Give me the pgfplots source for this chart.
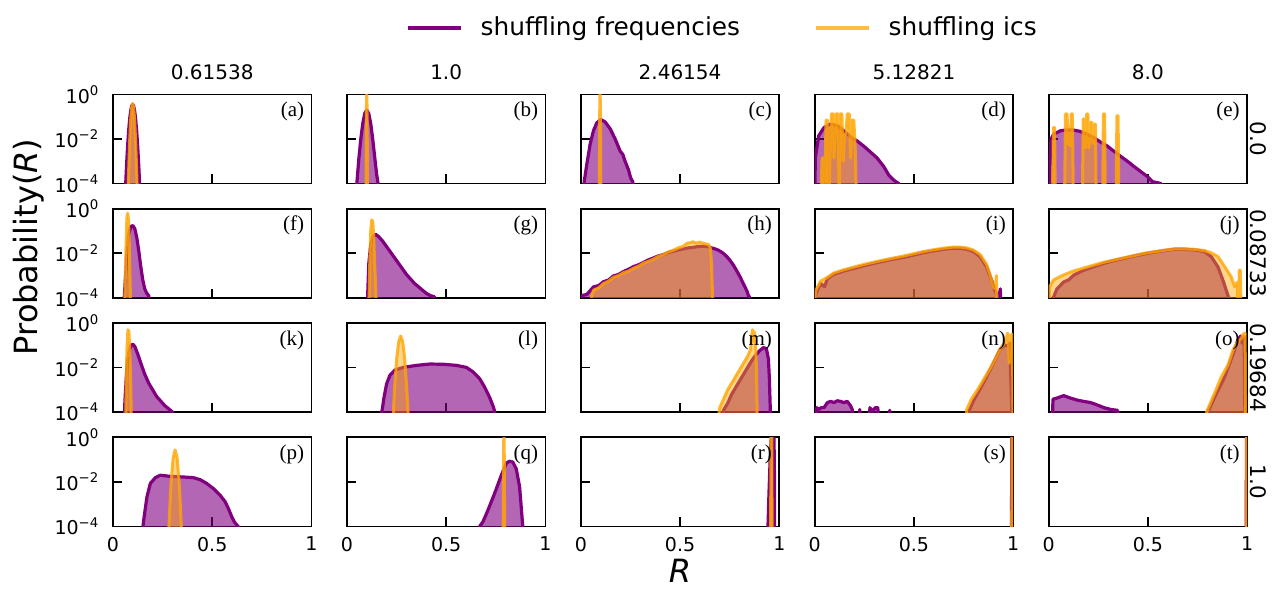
\documentclass[border=0pt]{standalone}
\usepackage{fontspec}
\setmainfont{DejaVu Sans}
\newfontfamily\panelfont{Liberation Serif}
\usepackage{pgfplots}
\pgfplotsset{compat=1.18}
\definecolor{pur}{RGB}{128,0,128}
\definecolor{org}{RGB}{255,165,0}
\pgfplotsset{
  panel/.style={
    scale only axis, width=99.25pt, height=44.5pt, anchor=south west,
    xmin=0, xmax=1, ymin=-4, ymax=0,
    xtick={0,0.5,1}, ytick={-4,-2,0},
    xticklabels={,,}, yticklabels={,,},
    tick align=inside, xtick pos=bottom, ytick pos=left,
    major tick length=4.5pt,
    axis line style={line width=0.9pt},
    every tick/.style={black, line width=0.9pt},
    tick label style={font=\fontsize{9.5}{11}\selectfont},
    xticklabel style={yshift=-1.8pt},
    yticklabel style={xshift=-3.3pt},
    clip mode=individual,
  },
  col1/.style={yticklabels={10\textsuperscript{−4},10\textsuperscript{−2},10\textsuperscript{0}}},
  bot/.style={xticklabels={0,0.5,1}},
  pf/.style={forget plot, draw=pur, line width=1.6pt, fill=pur, fill opacity=0.6, line join=round, mark=none},
  of/.style={forget plot, draw=org, draw opacity=0.8, line width=1.5pt, fill=org, fill opacity=0.45, line join=round, mark=none},
}
\newcommand{\plab}[1]{\node[anchor=north east, inner sep=0pt, font=\panelfont\fontsize{10.5}{12}\selectfont, xshift=-3.5pt, yshift=-3.5pt] at (rel axis cs:1,1) {(#1)};}
\newcommand{\ctitle}[1]{\node[anchor=base, font=\fontsize{10}{12}\selectfont, yshift=7.25pt] at (rel axis cs:0.5,1) {#1};}
\newcommand{\rlab}[1]{\node[xshift=5.75pt, rotate=-90, anchor=center, font=\fontsize{10.7}{12}\selectfont] at (rel axis cs:1,0.5) {#1};}
\begin{document}
\begin{tikzpicture}
\path[use as bounding box] (0,0) rectangle (639pt,294.5pt);
% ---------------- row 1 ----------------
\begin{axis}[panel, col1, at={(56.5pt,202.75pt)},
  legend style={at={(3.075,1.747)}, anchor=center, draw=none, fill=none, legend columns=2,
    font=\fontsize{12.4}{14}\selectfont,
    /tikz/every odd column/.append style={column sep=7pt},
    /tikz/every even column/.append style={column sep=35pt}},
  legend image code/.code={\draw[#1] (0pt,0pt) -- (26.5pt,0pt);}]
\addlegendimage{draw=pur, line width=1.8pt}
\addlegendentry{shuffling frequencies}
\addlegendimage{draw=org, draw opacity=0.75, line width=1.8pt}
\addlegendentry{shuffling ics}
\addplot[pf] coordinates {(0.059,-5.1)(0.064,-4)(0.069,-3.06)(0.074,-2.26)(0.079,-1.61)(0.084,-1.1)(0.089,-0.74)(0.094,-0.52)(0.099,-0.45)(0.104,-0.52)(0.109,-0.74)(0.114,-1.1)(0.119,-1.61)(0.124,-2.26)(0.129,-3.06)(0.134,-4)(0.139,-5.1)};
\addplot[of] coordinates {(0.074,-5.05)(0.077,-4)(0.079,-3.38)(0.084,-2.07)(0.089,-1.14)(0.094,-0.59)(0.099,-0.4)(0.104,-0.59)(0.109,-1.14)(0.114,-2.07)(0.119,-3.38)(0.121,-4)(0.124,-5.05)};
\ctitle{0.61538}\plab{a}
\end{axis}
\begin{axis}[panel, at={(173.45pt,202.75pt)}]
\addplot[pf] coordinates {(0.045,-5)(0.05,-4)(0.06,-2.9)(0.07,-2.0)(0.08,-1.3)(0.09,-0.85)(0.1,-0.7)(0.11,-0.85)(0.12,-1.3)(0.13,-2.0)(0.14,-2.8)(0.15,-3.6)(0.157,-4)(0.165,-5)};
\addplot[of] coordinates {(0.096,-5)(0.098,-1)(0.1,0.5)(0.102,-1)(0.104,-5)};
\ctitle{1.0}\plab{b}
\end{axis}
\begin{axis}[panel, at={(290.4pt,202.75pt)}]
\addplot[pf] coordinates {(0.012,-5)(0.017,-3.92)(0.03,-3.15)(0.047,-2.23)(0.064,-1.62)(0.08,-1.28)(0.1,-1.12)(0.122,-1.23)(0.148,-1.54)(0.173,-2.0)(0.198,-2.54)(0.212,-2.7)(0.223,-3.0)(0.24,-3.38)(0.252,-3.77)(0.262,-3.92)(0.27,-5)};
\addplot[of] coordinates {(0.093,-5)(0.095,-1)(0.097,0.5)(0.099,-1)(0.101,-5)};
\ctitle{2.46154}\plab{c}
\end{axis}
\begin{axis}[panel, at={(407.35pt,202.75pt)}]
\addplot[pf] coordinates {(0.0,-5)(0.003,-2.85)(0.02,-1.86)(0.047,-1.48)(0.08,-1.33)(0.114,-1.4)(0.147,-1.63)(0.18,-1.9)(0.214,-2.09)(0.247,-2.32)(0.28,-2.58)(0.314,-2.85)(0.348,-3.24)(0.373,-3.62)(0.398,-3.85)(0.423,-4)(0.43,-5)};
\addplot[of] coordinates {(0.030,-5)(0.037,-2.85)(0.043,-2.85)(0.050,-5)(0.057,-1.15)(0.064,-1.15)(0.070,-5)(0.077,-2.85)(0.084,-0.87)(0.094,-0.87)(0.097,-2.85)(0.107,-0.87)(0.117,-0.87)(0.124,-5)(0.127,-0.87)(0.137,-0.87)(0.144,-3)(0.151,-1.79)(0.157,-1.79)(0.164,-0.87)(0.174,-0.87)(0.181,-2.85)(0.187,-1.15)(0.197,-1.15)(0.204,-2.4)(0.211,-5)};
\ctitle{5.12821}\plab{d}
\end{axis}
\begin{axis}[panel, at={(524.3pt,202.75pt)}]
\addplot[pf] coordinates {(0.0,-5)(0.003,-3.9)(0.012,-2.0)(0.025,-1.79)(0.059,-1.63)(0.093,-1.59)(0.127,-1.6)(0.16,-1.66)(0.194,-1.79)(0.228,-1.94)(0.262,-2.14)(0.296,-2.32)(0.329,-2.55)(0.363,-2.78)(0.397,-3.0)(0.431,-3.24)(0.465,-3.47)(0.498,-3.69)(0.524,-3.92)(0.566,-4)(0.57,-5)};
\addplot[of] coordinates {(0.020,-5)(0.024,-1.48)(0.030,-1.48)(0.034,-5)(0.080,-5)(0.085,-0.87)(0.093,-0.87)(0.098,-2.2)(0.110,-2.3)(0.114,-0.87)(0.120,-0.87)(0.125,-5)(0.170,-5)(0.174,-1.1)(0.180,-1.1)(0.185,-2.4)(0.192,-0.87)(0.198,-0.87)(0.203,-2.4)(0.212,-1.25)(0.218,-1.25)(0.224,-2.2)(0.230,-1.33)(0.236,-1.33)(0.240,-5)(0.272,-5)(0.276,-0.87)(0.282,-0.87)(0.286,-5)(0.34,-5)(0.344,-0.95)(0.35,-0.95)(0.354,-5)};
\ctitle{8.0}\plab{e}\rlab{0.0}
\end{axis}
% ---------------- row 2 ----------------
\begin{axis}[panel, col1, at={(56.5pt,145.6pt)}]
\addplot[pf] coordinates {(0.05,-5)(0.06,-3.5)(0.07,-2)(0.08,-1.1)(0.09,-0.8)(0.1,-0.75)(0.11,-0.9)(0.12,-1.3)(0.13,-1.9)(0.14,-2.6)(0.15,-3.2)(0.16,-3.6)(0.17,-3.8)(0.18,-3.9)(0.19,-5)};
\addplot[of] coordinates {(0.058,-5)(0.062,-3)(0.066,-1.5)(0.07,-0.4)(0.074,-0.2)(0.078,-0.5)(0.082,-1.6)(0.086,-3.2)(0.09,-5)};
\plab{f}
\end{axis}
\begin{axis}[panel, at={(173.45pt,145.6pt)}]
\addplot[pf] coordinates {(0.1,-5)(0.105,-3.8)(0.11,-2.5)(0.12,-1.6)(0.13,-1.25)(0.145,-1.15)(0.16,-1.25)(0.18,-1.45)(0.2,-1.7)(0.22,-1.95)(0.24,-2.2)(0.26,-2.45)(0.28,-2.7)(0.3,-2.95)(0.32,-3.15)(0.34,-3.35)(0.36,-3.5)(0.38,-3.65)(0.4,-3.8)(0.42,-3.9)(0.44,-3.95)(0.45,-5)};
\addplot[of] coordinates {(0.11,-5)(0.115,-2.5)(0.12,-1.0)(0.125,-0.5)(0.13,-0.55)(0.135,-1.2)(0.14,-2.5)(0.145,-3.5)(0.15,-5)};
\plab{g}
\end{axis}
\begin{axis}[panel, at={(290.4pt,145.6pt)}]
\addplot[pf] coordinates {(0.0,-5)(0.005,-3.9)(0.03,-3.85)(0.064,-3.51)(0.09,-3.45)(0.114,-3.28)(0.14,-3.2)(0.164,-3.02)(0.19,-2.95)(0.215,-2.82)(0.24,-2.72)(0.265,-2.6)(0.29,-2.52)(0.315,-2.41)(0.34,-2.3)(0.366,-2.21)(0.39,-2.12)(0.416,-2.06)(0.44,-1.97)(0.466,-1.91)(0.49,-1.85)(0.517,-1.8)(0.54,-1.76)(0.567,-1.73)(0.59,-1.7)(0.617,-1.68)(0.64,-1.7)(0.659,-1.76)(0.676,-1.8)(0.693,-1.86)(0.715,-1.98)(0.735,-2.14)(0.75,-2.3)(0.768,-2.52)(0.785,-2.78)(0.802,-3.05)(0.815,-3.3)(0.827,-3.51)(0.837,-3.7)(0.844,-3.89)(0.852,-4)(0.856,-5)};
\addplot[of] coordinates {(0.05,-5)(0.055,-3.9)(0.064,-3.66)(0.09,-3.55)(0.114,-3.36)(0.14,-3.25)(0.164,-3.08)(0.19,-3.0)(0.215,-2.87)(0.24,-2.8)(0.265,-2.67)(0.29,-2.58)(0.315,-2.44)(0.34,-2.36)(0.366,-2.26)(0.39,-2.14)(0.416,-2.06)(0.44,-1.94)(0.466,-1.86)(0.49,-1.76)(0.517,-1.68)(0.535,-1.55)(0.55,-1.53)(0.565,-1.48)(0.58,-1.55)(0.6,-1.5)(0.62,-1.56)(0.643,-1.6)(0.65,-1.7)(0.654,-1.83)(0.659,-2.6)(0.664,-4)(0.666,-5)};
\plab{h}
\end{axis}
\begin{axis}[panel, at={(407.35pt,145.6pt)}]
\addplot[pf] coordinates {(0.0,-5)(0.005,-3.82)(0.03,-3.36)(0.05,-3.5)(0.064,-3.14)(0.097,-2.94)(0.12,-2.88)(0.147,-2.79)(0.197,-2.68)(0.247,-2.56)(0.298,-2.45)(0.348,-2.35)(0.398,-2.26)(0.448,-2.18)(0.498,-2.08)(0.548,-1.97)(0.599,-1.89)(0.649,-1.82)(0.699,-1.77)(0.732,-1.77)(0.766,-1.82)(0.799,-1.92)(0.833,-2.15)(0.866,-2.61)(0.891,-3.21)(0.908,-3.67)(0.92,-3.9)(0.928,-4)(0.935,-3.6)(0.94,-5)};
\addplot[of] coordinates {(0.0,-5)(0.003,-3.7)(0.03,-3.25)(0.064,-3.08)(0.097,-2.88)(0.147,-2.74)(0.197,-2.62)(0.247,-2.5)(0.298,-2.4)(0.348,-2.3)(0.398,-2.21)(0.448,-2.12)(0.498,-2.02)(0.548,-1.92)(0.599,-1.84)(0.649,-1.77)(0.699,-1.72)(0.732,-1.72)(0.766,-1.76)(0.799,-1.85)(0.833,-2.05)(0.866,-2.5)(0.885,-3.0)(0.9,-3.5)(0.91,-3.6)(0.915,-3.0)(0.92,-5)};
\plab{i}
\end{axis}
\begin{axis}[panel, at={(524.3pt,145.6pt)}]
\addplot[pf] coordinates {(0.02,-5)(0.025,-3.97)(0.042,-3.6)(0.076,-3.29)(0.1,-3.2)(0.127,-2.98)(0.177,-2.76)(0.228,-2.6)(0.279,-2.45)(0.329,-2.33)(0.38,-2.23)(0.431,-2.12)(0.481,-2.03)(0.532,-1.95)(0.583,-1.88)(0.633,-1.82)(0.684,-1.82)(0.735,-1.85)(0.785,-1.92)(0.819,-2.15)(0.853,-2.61)(0.878,-3.21)(0.895,-3.67)(0.907,-4)(0.91,-5)};
\addplot[of] coordinates {(0.0,-5)(0.005,-3.5)(0.025,-3.2)(0.076,-2.97)(0.127,-2.79)(0.177,-2.66)(0.228,-2.53)(0.279,-2.4)(0.329,-2.3)(0.38,-2.2)(0.431,-2.1)(0.481,-2.0)(0.532,-1.93)(0.583,-1.86)(0.633,-1.8)(0.684,-1.8)(0.735,-1.82)(0.785,-1.88)(0.819,-1.98)(0.853,-2.15)(0.887,-2.6)(0.92,-3.06)(0.937,-3.5)(0.95,-3.3)(0.957,-5)(0.96,-2.76)(0.966,-2.76)(0.97,-5)};
\plab{j}\rlab{0.08733}
\end{axis}
% ---------------- row 3 ----------------
\begin{axis}[panel, col1, at={(56.5pt,88.45pt)}]
\addplot[pf] coordinates {(0.055,-5)(0.06,-3.5)(0.07,-2.0)(0.08,-1.3)(0.09,-1.0)(0.1,-0.95)(0.11,-1.05)(0.125,-1.4)(0.14,-1.8)(0.16,-2.3)(0.18,-2.7)(0.2,-3.0)(0.22,-3.3)(0.24,-3.5)(0.26,-3.7)(0.28,-3.85)(0.3,-4)(0.31,-5)};
\addplot[of] coordinates {(0.063,-5)(0.066,-3)(0.07,-1.2)(0.075,-0.3)(0.08,-0.35)(0.085,-1.3)(0.09,-3)(0.093,-5)};
\plab{k}
\end{axis}
\begin{axis}[panel, at={(173.45pt,88.45pt)}]
\addplot[pf] coordinates {(0.17,-5)(0.176,-4)(0.187,-3.34)(0.2,-2.73)(0.217,-2.34)(0.242,-2.11)(0.284,-1.99)(0.351,-1.9)(0.418,-1.84)(0.485,-1.85)(0.552,-1.9)(0.602,-1.99)(0.635,-2.19)(0.669,-2.5)(0.694,-2.88)(0.719,-3.34)(0.736,-3.72)(0.744,-3.95)(0.75,-5)};
\addplot[of] coordinates {(0.229,-5)(0.234,-4.0)(0.236,-3.64)(0.241,-2.83)(0.251,-1.58)(0.261,-0.83)(0.271,-0.58)(0.281,-0.83)(0.291,-1.58)(0.301,-2.83)(0.306,-3.64)(0.308,-4.0)(0.313,-5)};
\plab{l}
\end{axis}
\begin{axis}[panel, at={(290.4pt,88.45pt)}]
\addplot[pf] coordinates {(0.70,-5)(0.72,-3.9)(0.74,-3.6)(0.76,-3.2)(0.78,-2.9)(0.8,-2.6)(0.82,-2.3)(0.84,-2.0)(0.86,-1.7)(0.88,-1.45)(0.9,-1.25)(0.92,-1.1)(0.935,-1.15)(0.945,-1.6)(0.95,-2.5)(0.955,-4)(0.96,-5)};
\addplot[of] coordinates {(0.68,-5)(0.70,-3.8)(0.72,-3.4)(0.74,-3.0)(0.76,-2.7)(0.78,-2.4)(0.8,-2.1)(0.82,-1.8)(0.84,-1.5)(0.855,-1.2)(0.86,-0.6)(0.865,-0.3)(0.87,-0.8)(0.875,-0.4)(0.88,-0.9)(0.885,-2)(0.89,-5)};
\plab{m}
\end{axis}
\begin{axis}[panel, at={(407.35pt,88.45pt)}]
\addplot[pf] coordinates {(0.005,-5)(0.01,-3.8)(0.022,-3.88)(0.033,-3.8)(0.047,-3.8)(0.064,-3.57)(0.08,-3.52)(0.097,-3.57)(0.114,-3.49)(0.13,-3.52)(0.147,-3.57)(0.164,-3.52)(0.181,-3.72)(0.189,-3.88)(0.197,-5)(0.222,-5)(0.227,-3.88)(0.234,-5)(0.273,-5)(0.278,-3.8)(0.289,-3.95)(0.306,-3.8)(0.318,-3.8)(0.324,-5)(0.373,-5)(0.378,-3.92)(0.385,-5)(0.77,-5)(0.774,-4)(0.8,-3.49)(0.833,-2.96)(0.866,-2.42)(0.9,-1.81)(0.933,-1.2)(0.958,-0.97)(0.975,-1.05)(0.983,-0.89)(0.988,-2.5)(0.993,-4)(0.995,-5)};
\addplot[of] coordinates {(0.76,-5)(0.765,-3.9)(0.79,-3.4)(0.82,-3.0)(0.85,-2.55)(0.88,-2.1)(0.91,-1.6)(0.935,-1.15)(0.955,-0.9)(0.965,-0.75)(0.97,-0.46)(0.975,-0.5)(0.98,-1.8)(0.983,-1.5)(0.988,-1.0)(0.992,-0.5)(0.996,-0.5)(1.0,-5)};
\plab{n}
\end{axis}
\begin{axis}[panel, at={(524.3pt,88.45pt)}]
\addplot[pf] coordinates {(0.017,-5)(0.022,-3.42)(0.042,-3.37)(0.076,-3.26)(0.11,-3.37)(0.144,-3.46)(0.177,-3.52)(0.211,-3.57)(0.245,-3.68)(0.279,-3.8)(0.313,-3.88)(0.346,-3.92)(0.38,-5)(0.80,-5)(0.802,-4)(0.828,-3.49)(0.861,-2.88)(0.887,-2.42)(0.912,-1.81)(0.937,-1.2)(0.954,-0.74)(0.968,-0.58)(0.975,-0.9)(0.985,-0.6)(0.99,-5)};
\addplot[of] coordinates {(0.794,-5)(0.796,-4)(0.816,-3.57)(0.845,-2.96)(0.87,-2.42)(0.904,-1.88)(0.929,-1.2)(0.954,-0.82)(0.97,-0.7)(0.98,-0.5)(0.99,-0.45)(0.993,-5)};
\plab{o}\rlab{0.19684}
\end{axis}
% ---------------- row 4 ----------------
\begin{axis}[panel, col1, bot, at={(56.5pt,31.3pt)}]
\addplot[pf] coordinates {(0.145,-5)(0.151,-4)(0.157,-3.56)(0.171,-2.67)(0.188,-2.07)(0.213,-1.81)(0.238,-1.7)(0.288,-1.75)(0.355,-1.78)(0.405,-1.81)(0.439,-1.9)(0.472,-2.07)(0.506,-2.3)(0.539,-2.59)(0.565,-2.89)(0.581,-3.19)(0.598,-3.56)(0.61,-3.78)(0.623,-3.93)(0.631,-4)(0.635,-5)};
\addplot[of] coordinates {(0.279,-5)(0.281,-4.2)(0.283,-3.78)(0.288,-2.8)(0.293,-1.99)(0.303,-0.92)(0.313,-0.56)(0.323,-0.92)(0.333,-1.99)(0.338,-2.8)(0.343,-3.78)(0.345,-4.2)(0.347,-5)};
\plab{p}
\end{axis}
\begin{axis}[panel, bot, at={(173.45pt,31.3pt)}]
\addplot[pf] coordinates {(0.665,-5)(0.669,-4)(0.686,-3.78)(0.711,-3.26)(0.744,-2.52)(0.778,-1.7)(0.803,-1.16)(0.819,-1.07)(0.836,-1.11)(0.853,-1.41)(0.87,-2.22)(0.878,-3.11)(0.886,-4)(0.89,-5)};
\addplot[of] coordinates {(0.787,-5)(0.789,-1)(0.791,0.5)(0.793,-1)(0.795,-5)};
\plab{q}
\end{axis}
\begin{axis}[panel, bot, at={(290.4pt,31.3pt)}]
\addplot[pf] coordinates {(0.94,-5)(0.943,-4)(0.948,-2.5)(0.953,-1.2)(0.958,-0.2)(0.962,0.3)(0.972,0.3)(0.975,-1)(0.977,-5)};
\addplot[of] coordinates {(0.956,-5)(0.958,0.5)(0.962,0.5)(0.964,-5)};
\plab{r}
\end{axis}
\begin{axis}[panel, bot, at={(407.35pt,31.3pt)}]
\addplot[pf] coordinates {(0.991,-5)(0.993,0.5)(0.995,0.5)(0.997,-5)};
\addplot[of] coordinates {(0.992,-5)(0.994,0.5)(0.996,0.5)(0.998,-5)};
\plab{s}
\end{axis}
\begin{axis}[panel, bot, at={(524.3pt,31.3pt)}]
\addplot[pf] coordinates {(0.995,-5)(0.997,0.5)(0.999,0.5)(1.0,-5)};
\addplot[of] coordinates {(0.996,-5)(0.998,0.5)(0.9995,0.5)(1.0,-5)};
\plab{t}\rlab{1.0}
\end{axis}
% axis labels
\node[rotate=90, anchor=base, font=\fontsize{16}{19}\selectfont] at (18.5pt,171pt) {Probability(\textit{R})};
\node[anchor=base, font=\fontsize{16}{19}\selectfont\itshape] at (340pt,3.5pt) {R};
\end{tikzpicture}
\end{document}
